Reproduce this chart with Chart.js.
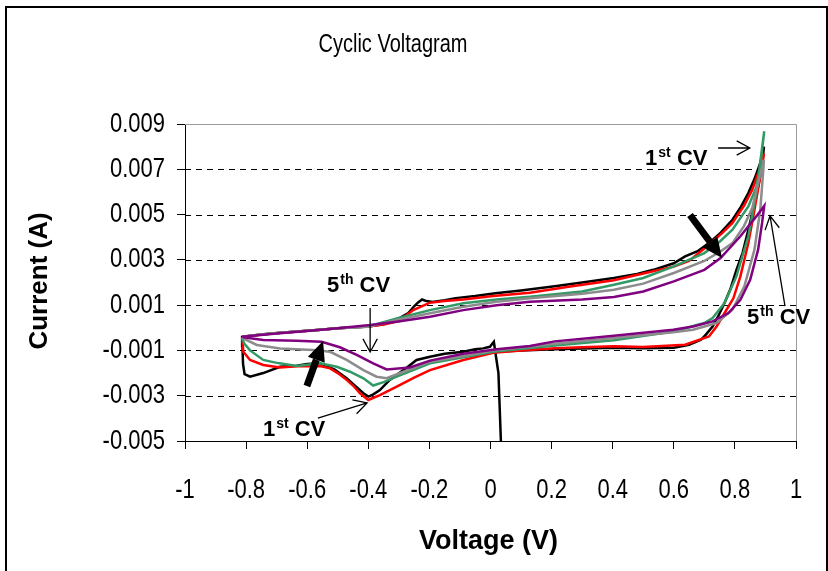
<!DOCTYPE html>
<html>
<head>
<meta charset="utf-8">
<script src="https://cdn.jsdelivr.net/npm/chart.js@4.4.1/dist/chart.umd.min.js"></script>
<style>
  html, body { margin: 0; padding: 0; background: #fff; }
  canvas { display: block; }
</style>
</head>
<body>
<canvas id="cv" width="828" height="571"></canvas>
<script>
// Cyclic voltammogram, five cycles, current in mA

const cycle1Volts = [0.034, 0.03, 0.026, 0.018, 0.011, -0.002, -0.024, -0.05, -0.089, -0.15, -0.198, -0.242, -0.285, -0.33, -0.362, -0.385, -0.4, -0.416, -0.44, -0.471, -0.51, -0.558, -0.6, -0.634, -0.689, -0.744, -0.787, -0.805, -0.81, -0.812, -0.813, -0.75, -0.696, -0.632, -0.567, -0.5, -0.4, -0.35, -0.32, -0.295, -0.269, -0.25, -0.237, -0.224, -0.21, -0.19, -0.15, -0.114, -0.05, 0.016, 0.1, 0.21, 0.3, 0.404, 0.48, 0.533, 0.6, 0.637, 0.68, 0.715, 0.75, 0.792, 0.82, 0.844, 0.865, 0.883, 0.895, 0.889, 0.87, 0.844, 0.825, 0.805, 0.785, 0.766, 0.745, 0.727, 0.705, 0.689, 0.65, 0.6, 0.5, 0.404, 0.3, 0.21, 0.1, 0.03];
const cycle1MilliAmps = [-5.0, -3.5, -2.0, -1.28, -0.62, -0.84, -0.91, -0.95, -1.06, -1.15, -1.28, -1.42, -1.87, -2.3, -2.75, -2.95, -3.04, -2.89, -2.6, -2.23, -1.85, -1.57, -1.6, -1.68, -1.72, -2.0, -2.16, -2.05, -1.6, -0.8, -0.4, -0.3, -0.23, -0.16, -0.1, -0.02, 0.06, 0.15, 0.3, 0.45, 0.65, 0.95, 1.12, 1.25, 1.18, 1.14, 1.22, 1.31, 1.4, 1.53, 1.65, 1.83, 2.0, 2.2, 2.38, 2.56, 2.85, 3.15, 3.4, 3.74, 4.15, 4.77, 5.35, 5.95, 6.6, 7.28, 8.0, 7.13, 5.8, 4.33, 3.3, 2.56, 1.7, 1.09, 0.5, 0.06, -0.3, -0.53, -0.75, -0.88, -0.9, -0.88, -0.92, -0.95, -1.0, -1.05];

const cycle2Volts = [-0.813, -0.75, -0.696, -0.632, -0.567, -0.5, -0.4, -0.35, -0.3, -0.253, -0.2, -0.15, -0.089, 0.009, 0.129, 0.25, 0.404, 0.5, 0.6, 0.65, 0.715, 0.76, 0.792, 0.83, 0.857, 0.878, 0.895, 0.89, 0.883, 0.864, 0.844, 0.818, 0.795, 0.779, 0.74, 0.715, 0.637, 0.5, 0.404, 0.3, 0.21, 0.1, 0.009, -0.089, -0.198, -0.25, -0.307, -0.362, -0.385, -0.4, -0.427, -0.45, -0.471, -0.5, -0.525, -0.558, -0.634, -0.689, -0.744, -0.787, -0.809, -0.813];
const cycle2MilliAmps = [-0.4, -0.3, -0.23, -0.16, -0.1, -0.02, 0.06, 0.14, 0.3, 0.78, 1.1, 1.18, 1.25, 1.4, 1.55, 1.8, 2.1, 2.4, 2.7, 2.95, 3.67, 4.2, 4.63, 5.4, 6.1, 6.9, 7.7, 7.2, 6.69, 5.2, 3.74, 2.27, 1.3, 0.94, 0.06, -0.38, -0.75, -0.85, -0.82, -0.86, -0.9, -1.0, -1.1, -1.42, -1.87, -2.2, -2.6, -2.97, -3.1, -3.19, -2.89, -2.55, -2.3, -2.0, -1.79, -1.69, -1.7, -1.75, -1.64, -1.42, -1.06, -0.4];

const cycle3Volts = [-0.813, -0.75, -0.696, -0.632, -0.567, -0.5, -0.4, -0.307, -0.198, -0.089, 0.02, 0.129, 0.3, 0.404, 0.5, 0.6, 0.7, 0.75, 0.792, 0.844, 0.87, 0.883, 0.896, 0.87, 0.844, 0.805, 0.766, 0.727, 0.7, 0.598, 0.404, 0.21, 0.009, -0.089, -0.198, -0.307, -0.35, -0.384, -0.416, -0.46, -0.503, -0.558, -0.634, -0.696, -0.744, -0.787, -0.806, -0.813];
const cycle3MilliAmps = [-0.4, -0.3, -0.23, -0.16, -0.1, -0.02, 0.06, 0.41, 0.78, 1.08, 1.25, 1.37, 1.6, 1.9, 2.2, 2.71, 3.3, 3.8, 4.33, 5.36, 6.2, 7.13, 8.68, 5.95, 4.04, 2.27, 1.09, 0.43, 0.21, -0.16, -0.55, -0.78, -1.06, -1.3, -1.57, -2.16, -2.4, -2.55, -2.23, -1.94, -1.72, -1.57, -1.69, -1.56, -1.42, -1.0, -0.7, -0.45];

const cycle4Volts = [-0.813, -0.75, -0.696, -0.632, -0.567, -0.5, -0.4, -0.307, -0.198, -0.089, 0.02, 0.129, 0.3, 0.404, 0.5, 0.6, 0.7, 0.75, 0.792, 0.83, 0.857, 0.876, 0.895, 0.893, 0.883, 0.864, 0.831, 0.792, 0.74, 0.663, 0.598, 0.404, 0.21, 0.009, -0.089, -0.198, -0.285, -0.34, -0.373, -0.416, -0.471, -0.525, -0.58, -0.689, -0.765, -0.813];
const cycle4MilliAmps = [-0.4, -0.3, -0.23, -0.16, -0.1, -0.02, 0.05, 0.34, 0.64, 0.93, 1.15, 1.3, 1.5, 1.68, 1.95, 2.42, 2.95, 3.35, 3.74, 4.5, 5.3, 6.39, 7.42, 6.98, 5.2, 3.45, 1.83, 0.8, 0.21, -0.09, -0.2, -0.45, -0.7, -1.0, -1.25, -1.5, -1.94, -2.23, -2.16, -1.87, -1.42, -1.06, -0.98, -0.91, -0.76, -0.45];

const cycle5Volts = [-0.813, -0.7, -0.591, -0.5, -0.394, -0.307, -0.198, -0.089, 0.02, 0.129, 0.3, 0.404, 0.5, 0.6, 0.7, 0.753, 0.818, 0.87, 0.896, 0.889, 0.876, 0.85, 0.818, 0.779, 0.727, 0.663, 0.598, 0.404, 0.21, 0.129, 0.02, -0.089, -0.198, -0.264, -0.34, -0.384, -0.438, -0.493, -0.553, -0.634, -0.744, -0.809];
const cycle5MilliAmps = [-0.4, -0.25, -0.13, -0.02, 0.12, 0.27, 0.49, 0.78, 1.0, 1.15, 1.25, 1.36, 1.6, 2.05, 2.56, 3.08, 4.04, 4.92, 5.39, 4.63, 3.45, 2.12, 1.24, 0.65, 0.28, 0.06, -0.09, -0.35, -0.6, -0.8, -0.95, -1.15, -1.45, -1.75, -1.84, -1.57, -1.2, -0.86, -0.62, -0.57, -0.54, -0.42];

const voltTicks = [-1, -0.8, -0.6, -0.4, -0.2, 0, 0.2, 0.4, 0.6, 0.8, 1];
const voltTickLabels = ['-1', '-0.8', '-0.6', '-0.4', '-0.2', '0', '0.2', '0.4', '0.6', '0.8', '1'];
const currentTicks = [-0.005, -0.003, -0.001, 0.001, 0.003, 0.005, 0.007, 0.009];
const currentTickLabels = ['-0.005', '-0.003', '-0.001', '0.001', '0.003', '0.005', '0.007', '0.009'];

const FONT = "'Liberation Sans', Arial, Helvetica, sans-serif";

// annotation anchors, in data units (V, A)
const labels = [
  { text: ['1', 'st', ' CV'], v: 0.506, i: 0.00719 },
  { text: ['5', 'th', ' CV'], v: 0.84, i: 0.00017 },
  { text: ['5', 'th', ' CV'], v: -0.535, i: 0.00158 },
  { text: ['1', 'st', ' CV'], v: -0.745, i: -0.00478 }
];
const thinArrows = [
  { from: [0.745, 0.00794], to: [0.849, 0.00794] },
  { from: [0.964, 0.00096], to: [0.915, 0.00494] },
  { from: [-0.394, 0.00087], to: [-0.394, -0.00107] },
  { from: [-0.565, -0.00399], to: [-0.404, -0.00332] }
];
const thickArrows = [
  { from: [0.653, 0.00498], to: [0.758, 0.00308] },
  { from: [-0.601, -0.00257], to: [-0.548, -0.00058] }
];

function toPoints(volts, milliAmps) {
  return volts.map((v, k) => ({ x: v, y: milliAmps[k] / 1000 }));
}

function cycle(label, volts, milliAmps, color) {
  return {
    label, data: toPoints(volts, milliAmps),
    showLine: true, borderColor: color, backgroundColor: color,
    borderWidth: 2.5, pointRadius: 0, tension: 0, fill: false
  };
}

// text in the source image is drawn tall and narrow
function tallText(ctx, text, x, y, font, sy, align) {
  ctx.save();
  ctx.translate(x, y);
  ctx.scale(1, sy);
  ctx.font = font;
  ctx.textAlign = align;
  ctx.textBaseline = 'middle';
  ctx.fillText(text, 0, 0);
  ctx.restore();
}

function drawCvLabel(ctx, x, y, parts) {
  ctx.fillStyle = '#000';
  ctx.textAlign = 'left';
  ctx.textBaseline = 'alphabetic';
  ctx.font = `bold 22px ${FONT}`;
  ctx.fillText(parts[0], x, y);
  let w = ctx.measureText(parts[0]).width + 1;
  ctx.font = `bold 14px ${FONT}`;
  ctx.fillText(parts[1], x + w, y - 8);
  w += ctx.measureText(parts[1]).width;
  ctx.font = `bold 22px ${FONT}`;
  ctx.fillText(parts[2], x + w, y);
}

function drawThinArrow(ctx, x1, y1, x2, y2) {
  const a = Math.atan2(y2 - y1, x2 - x1);
  const len = 15, spread = 0.5;
  ctx.strokeStyle = '#000';
  ctx.lineWidth = 1.3;
  ctx.beginPath();
  ctx.moveTo(x1, y1);
  ctx.lineTo(x2, y2);
  ctx.moveTo(x2 - len * Math.cos(a - spread), y2 - len * Math.sin(a - spread));
  ctx.lineTo(x2, y2);
  ctx.lineTo(x2 - len * Math.cos(a + spread), y2 - len * Math.sin(a + spread));
  ctx.stroke();
}

function drawThickArrow(ctx, x1, y1, x2, y2) {
  const a = Math.atan2(y2 - y1, x2 - x1);
  const headLen = 20, headHalf = 9;
  const bx = x2 - headLen * Math.cos(a), by = y2 - headLen * Math.sin(a);
  ctx.strokeStyle = '#000';
  ctx.fillStyle = '#000';
  ctx.lineWidth = 7;
  ctx.lineCap = 'butt';
  ctx.beginPath();
  ctx.moveTo(x1, y1);
  ctx.lineTo(bx, by);
  ctx.stroke();
  ctx.beginPath();
  ctx.moveTo(x2, y2);
  ctx.lineTo(bx + headHalf * Math.sin(a), by - headHalf * Math.cos(a));
  ctx.lineTo(bx - headHalf * Math.sin(a), by + headHalf * Math.cos(a));
  ctx.closePath();
  ctx.fill();
}

const decorations = {
  id: 'decorations',
  beforeDatasetsDraw(chart) {
    const { ctx, chartArea: area, scales: { y } } = chart;
    ctx.save();
    // dashed horizontal grid
    ctx.strokeStyle = '#000';
    ctx.lineWidth = 1;
    ctx.setLineDash([6, 5]);
    currentTicks.slice(1, -1).forEach(v => {
      const py = Math.round(y.getPixelForValue(v)) + 0.5;
      ctx.beginPath();
      ctx.moveTo(area.left, py);
      ctx.lineTo(area.right, py);
      ctx.stroke();
    });
    ctx.setLineDash([]);
    // plot frame, grey on top and right
    ctx.strokeStyle = '#9a9a9a';
    ctx.beginPath();
    ctx.moveTo(area.left, Math.round(area.top) + 0.5);
    ctx.lineTo(Math.round(area.right) + 0.5, Math.round(area.top) + 0.5);
    ctx.lineTo(Math.round(area.right) + 0.5, area.bottom);
    ctx.stroke();
    ctx.restore();
  },
  afterDatasetsDraw(chart) {
    const { ctx, scales: { x, y } } = chart;
    ctx.save();
    thickArrows.forEach(a => drawThickArrow(ctx,
      x.getPixelForValue(a.from[0]), y.getPixelForValue(a.from[1]),
      x.getPixelForValue(a.to[0]), y.getPixelForValue(a.to[1])));
    thinArrows.forEach(a => drawThinArrow(ctx,
      x.getPixelForValue(a.from[0]), y.getPixelForValue(a.from[1]),
      x.getPixelForValue(a.to[0]), y.getPixelForValue(a.to[1])));
    labels.forEach(l => drawCvLabel(ctx, x.getPixelForValue(l.v), y.getPixelForValue(l.i), l.text));
    ctx.restore();
  },
  afterDraw(chart) {
    const { ctx, chartArea: area, scales: { x, y } } = chart;
    ctx.save();
    ctx.fillStyle = '#000';
    const tickFont = `22px ${FONT}`;
    currentTicks.forEach((v, k) => tallText(ctx, currentTickLabels[k], 165, y.getPixelForValue(v), tickFont, 1.25, 'right'));
    voltTicks.forEach((v, k) => tallText(ctx, voltTickLabels[k], x.getPixelForValue(v), 490, tickFont, 1.25, 'center'));
    tallText(ctx, 'Cyclic Voltagram', 393, 45, `20px ${FONT}`, 1.3, 'center');
    tallText(ctx, 'Voltage (V)', (area.left + area.right) / 2 - 2, 541, `bold 27px ${FONT}`, 1.05, 'center');
    ctx.translate(40, 281);
    ctx.rotate(-Math.PI / 2);
    tallText(ctx, 'Current (A)', 0, 0, `bold 26px ${FONT}`, 1.0, 'center');
    ctx.restore();
    // outer frame
    ctx.save();
    ctx.strokeStyle = '#000';
    ctx.lineWidth = 2;
    ctx.beginPath();
    ctx.moveTo(6, 571);
    ctx.lineTo(6, 7);
    ctx.lineTo(827, 7);
    ctx.lineTo(827, 571);
    ctx.stroke();
    ctx.restore();
  }
};

new Chart(document.getElementById('cv'), {
  type: 'scatter',
  data: {
    datasets: [
      cycle('5th CV', cycle5Volts, cycle5MilliAmps, '#800080'),
      cycle('4th CV', cycle4Volts, cycle4MilliAmps, '#8c8c8c'),
      cycle('3rd CV', cycle3Volts, cycle3MilliAmps, '#339966'),
      cycle('2nd CV', cycle2Volts, cycle2MilliAmps, '#ff0000'),
      cycle('1st CV', cycle1Volts, cycle1MilliAmps, '#000000')
    ]
  },
  options: {
    responsive: false,
    animation: false,
    events: [],
    layout: { padding: { top: 124, right: 32, left: 0, bottom: 0 } },
    plugins: { legend: { display: false }, tooltip: { enabled: false }, title: { display: false } },
    scales: {
      x: {
        type: 'linear', min: -1, max: 1,
        afterBuildTicks: s => { s.ticks = voltTicks.map(v => ({ value: v })); },
        afterFit: s => { s.height = 130; },
        ticks: { display: false },
        grid: { drawOnChartArea: false, drawTicks: true, tickLength: 8, color: '#000' },
        border: { color: '#000', width: 1 }
      },
      y: {
        type: 'linear', min: -0.005, max: 0.009,
        afterBuildTicks: s => { s.ticks = currentTicks.map(v => ({ value: v })); },
        afterFit: s => { s.width = 185; },
        ticks: { display: false },
        grid: { drawOnChartArea: false, drawTicks: true, tickLength: 8, color: '#000' },
        border: { color: '#000', width: 1 }
      }
    }
  },
  plugins: [decorations]
});
</script>
</body>
</html>
